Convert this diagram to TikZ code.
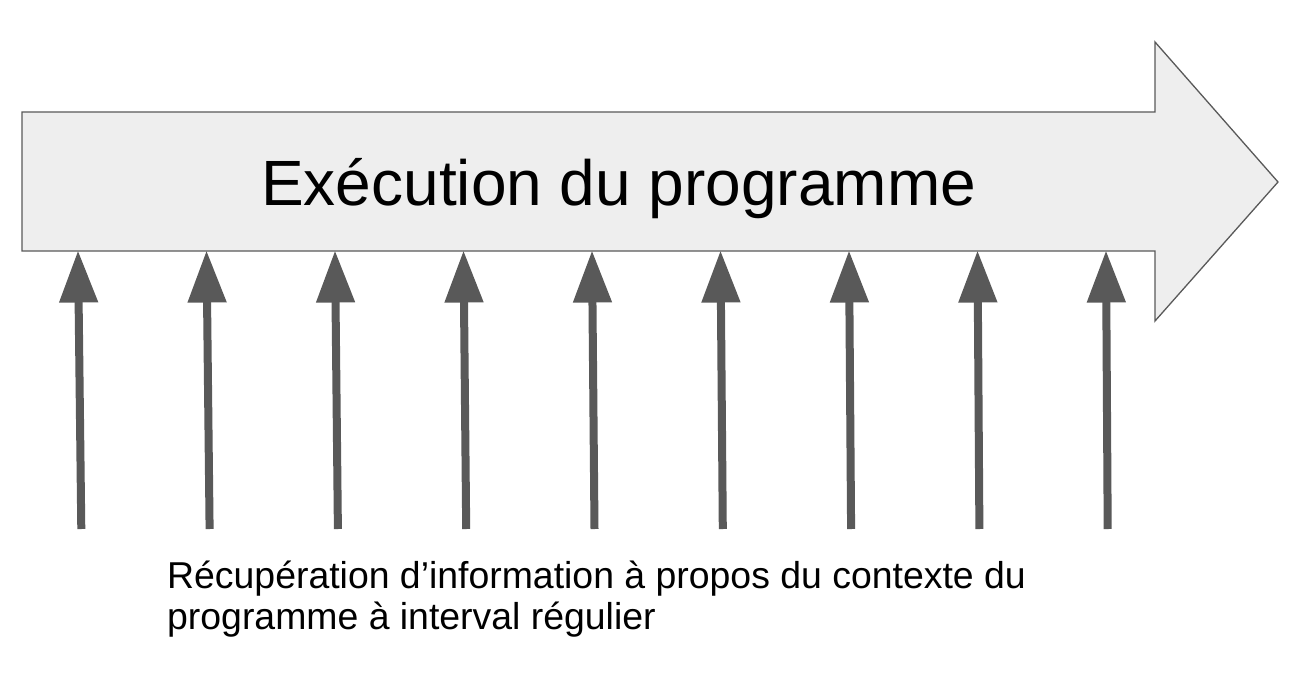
\documentclass[tikz,border=0pt]{standalone}
\usepackage{fontspec}
\setmainfont{Liberation Sans}
\usetikzlibrary{arrows.meta}
\definecolor{arrowgray}{HTML}{595959}
\definecolor{bodygray}{HTML}{EEEEEE}

\begin{document}
\begin{tikzpicture}[x=1pt, y=-1pt,
		sample/.style={line width=8pt, color=arrowgray, -{Triangle[width=37pt, length=52pt]}}]
			%%%%% START %%%%%
			
			\useasboundingbox (0, 0) rectangle (1298, 698);
			
			\draw[line width=1.3pt, color=arrowgray, fill=bodygray] (22, 112) -- (1155, 112) -- (1155, 42) -- (1278, 182) -- (1155, 321) -- (1155, 251) -- (22, 251) -- cycle;
			
			\node[anchor=base west, inner sep=0pt, font=\fontsize{64}{70}\selectfont] (exec) at (261, 205) {Exécution du programme};
			
			\foreach \i in {0,...,8}{
				\coordinate (bot\i) at (81.3+128.3*\i, 529);
				\coordinate (top\i) at (78+128.5*\i, 250.5);
				\draw[sample] (bot\i) -- (top\i);
			}
			
			\node[anchor=base west, inner sep=0pt, align=left, font=\fontsize{37.4}{41}\selectfont] (info) at (167, 629) {Récupération d’information à propos du contexte du\\programme à interval régulier};
			
			%%%%% END %%%%%
\end{tikzpicture}
\end{document}
